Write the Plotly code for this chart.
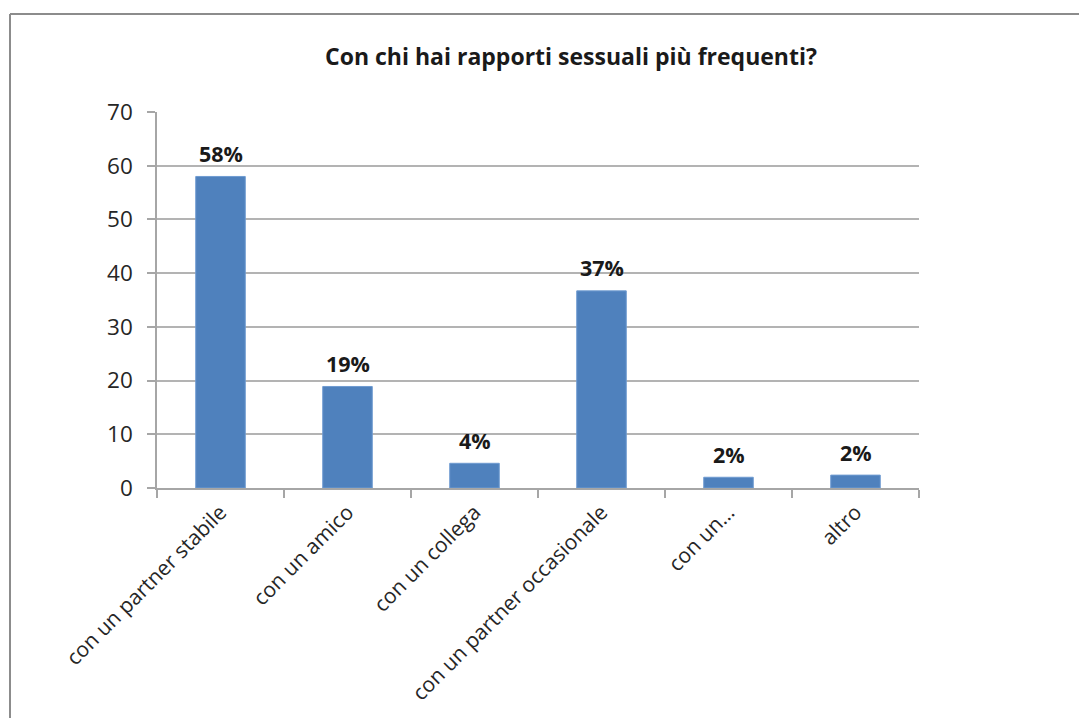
import plotly.graph_objects as go

categories = ["con un partner stabile", "con un amico", "con un collega",
              "con un partner occasionale", "con un…", "altro"]
values = [58, 18.9, 4.6, 36.7, 2.0, 2.4]
labels = ["58%", "19%", "4%", "37%", "2%", "2%"]
y_ticks = [0, 10, 20, 30, 40, 50, 60, 70]
title = "Con chi hai rapporti sessuali più frequenti?"

W, H = 1087, 718
OFF = 8  # page body margin
L, R, T, B = 157 - OFF, 919 - OFF, 112 - OFF, 488 - OFF
FONT = "Open Sans"

fig = go.Figure()
fig.add_trace(go.Bar(
    x=categories, y=values,
    marker=dict(color="#4F81BD", line=dict(color="#6F9BD1", width=1)),
    width=0.39, hoverinfo="x+y",
))
for c, v, t in zip(categories, values, labels):
    fig.add_annotation(x=c, y=v, text=f"<b>{t}</b>", showarrow=False,
                       yshift=23, yanchor="middle",
                       font=dict(family=FONT, size=21.5, color="#1a1a1a"))

def px(x):
    return (x - OFF - L) / (R - L)

def py(y):
    return (B - (y - OFF)) / (B - T)

fig.update_layout(
    width=W, height=H,
    margin=dict(l=L, r=W - R, t=T, b=H - B, pad=0, autoexpand=False),
    paper_bgcolor="white", plot_bgcolor="white",
    showlegend=False,
    title=dict(text=f"<b>{title}</b>", x=(571 - OFF) / W, xanchor="center",
               y=1 - (57 - OFF) / H, yanchor="middle",
               font=dict(family=FONT, size=23, color="#1a1a1a")),
    font=dict(family=FONT, size=22, color="#262626"),
    shapes=[
        dict(type="line", xref="paper", yref="paper", x0=px(10), x1=px(W + 20),
             y0=py(14), y1=py(14), line=dict(color="#8c8c8c", width=2)),
        dict(type="line", xref="paper", yref="paper", x0=px(10), x1=px(10),
             y0=py(14), y1=py(H + 20), line=dict(color="#8c8c8c", width=2)),
    ],
)
fig.update_xaxes(
    type="category", tickangle=-45, tickson="boundaries",
    ticks="outside", ticklen=8, tickcolor="#a6a6a6", tickwidth=1.5,
    showline=True, linecolor="#a6a6a6", linewidth=1.5,
    showgrid=False, ticklabelstandoff=2, automargin=False,
    tickfont=dict(family=FONT, size=21, color="#262626"),
)
fig.update_yaxes(
    range=[0, 70], tickvals=y_ticks, ticks="outside", ticklen=8,
    tickcolor="#a6a6a6", tickwidth=1.5,
    showline=True, linecolor="#a6a6a6", linewidth=1.5,
    showgrid=True, gridcolor="#b3b3b3", gridwidth=1.5,
    zeroline=False, ticklabelstandoff=10, automargin=False,
    tickfont=dict(family=FONT, size=22.5, color="#262626"),
)

fig.write_html("out.html")
